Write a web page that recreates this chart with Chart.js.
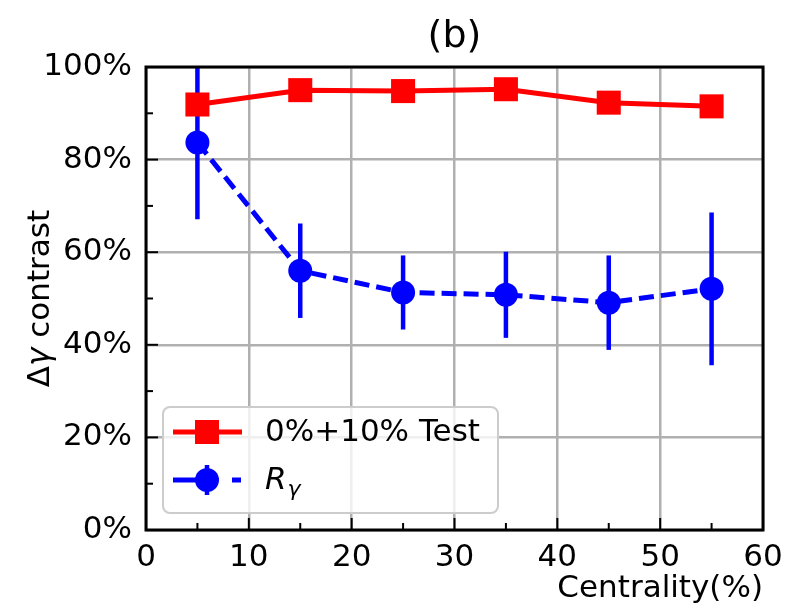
<!DOCTYPE html>
<html>
<head>
<meta charset="utf-8">
<script src="https://cdn.jsdelivr.net/npm/chart.js@4.4.0/dist/chart.umd.min.js"></script>
<style>
  html, body { margin: 0; padding: 0; background: #fff; }
  #wrap { width: 805px; height: 603px; }
</style>
</head>
<body>
<div id="wrap"><canvas id="chart" width="805" height="603"></canvas></div>
<script>
// centrality bins and the two contrast series (in %)
const centrality = [5, 15, 25, 35, 45, 55];
const testContrast = [91.9, 95.0, 94.8, 95.2, 92.3, 91.5];
const rGamma = [83.7, 56.0, 51.3, 50.8, 49.1, 52.1];
const rGammaErr = [16.6, 10.2, 8.0, 9.3, 10.2, 16.5];
const xTicks = [0, 10, 20, 30, 40, 50, 60];
const yTicks = [0, 20, 40, 60, 80, 100];
const xMinor = [5, 15, 25, 35, 45, 55];
const yMinor = [10, 30, 50, 70, 90];

const FONT = '"DejaVu Sans", sans-serif';
const RED = '#ff0000';
const BLUE = '#0000ff';
const GRID = '#b0b0b0';

// vertical error bars for R_gamma, under the markers
const errorBars = {
    id: 'errorBars',
    beforeDatasetsDraw(chart) {
        const { ctx, chartArea: a, scales: { x, y } } = chart;
        ctx.save();
        ctx.beginPath();
        ctx.rect(a.left, a.top, a.right - a.left, a.bottom - a.top);
        ctx.clip();
        ctx.strokeStyle = BLUE;
        ctx.lineWidth = 4.5;
        centrality.forEach((c, i) => {
            const px = x.getPixelForValue(c);
            ctx.beginPath();
            ctx.moveTo(px, y.getPixelForValue(rGamma[i] - rGammaErr[i]));
            ctx.lineTo(px, y.getPixelForValue(rGamma[i] + rGammaErr[i]));
            ctx.stroke();
        });
        ctx.restore();
    }
};

// box frame with inward ticks, legend and text labels
const frame = {
    id: 'frame',
    afterDatasetsDraw(chart) {
        const { ctx, chartArea: a, scales: { x, y } } = chart;
        ctx.save();
        ctx.strokeStyle = '#000';
        ctx.lineWidth = 2;
        const tick = (x1, y1, x2, y2) => { ctx.beginPath(); ctx.moveTo(x1, y1); ctx.lineTo(x2, y2); ctx.stroke(); };
        yTicks.forEach(v => { const p = y.getPixelForValue(v); tick(a.left, p, a.left + 12, p); });
        yMinor.forEach(v => { const p = y.getPixelForValue(v); tick(a.left, p, a.left + 7, p); });
        xTicks.forEach(v => { const p = x.getPixelForValue(v); tick(p, a.bottom, p, a.bottom - 12); });
        xMinor.forEach(v => { const p = x.getPixelForValue(v); tick(p, a.bottom, p, a.bottom - 7); });
        ctx.lineWidth = 3;
        ctx.strokeRect(a.left, a.top, a.right - a.left, a.bottom - a.top);
        ctx.restore();
    },
    afterDraw(chart) {
        const { ctx, chartArea: a } = chart;
        ctx.save();

        // legend
        ctx.fillStyle = 'rgba(255,255,255,0.8)';
        ctx.strokeStyle = '#cccccc';
        ctx.lineWidth = 2;
        ctx.beginPath();
        ctx.roundRect(163, 407, 335, 106, 7);
        ctx.fill();
        ctx.stroke();

        const hx = 207;
        ctx.strokeStyle = RED;
        ctx.lineWidth = 5;
        ctx.beginPath(); ctx.moveTo(173, 432); ctx.lineTo(242, 432); ctx.stroke();
        ctx.fillStyle = RED;
        ctx.fillRect(hx - 12, 420, 24, 24);

        ctx.strokeStyle = BLUE;
        ctx.lineWidth = 5;
        ctx.beginPath(); ctx.moveTo(173, 480); ctx.lineTo(200, 480); ctx.stroke();
        ctx.beginPath(); ctx.moveTo(232, 480); ctx.lineTo(241, 480); ctx.stroke();
        ctx.lineWidth = 4.5;
        ctx.beginPath(); ctx.moveTo(hx, 465); ctx.lineTo(hx, 495); ctx.stroke();
        ctx.fillStyle = BLUE;
        ctx.beginPath(); ctx.arc(hx, 480, 12, 0, Math.PI * 2); ctx.fill();

        ctx.fillStyle = '#000';
        ctx.textBaseline = 'middle';
        ctx.textAlign = 'left';
        ctx.font = '31px ' + FONT;
        ctx.fillText('0%+10% Test', 265, 433);
        ctx.font = 'italic 31px ' + FONT;
        ctx.fillText('R', 265, 481);
        const rw = ctx.measureText('R').width;
        ctx.font = 'italic 22px ' + FONT;
        ctx.fillText('γ', 265 + rw + 1, 490);

        // title
        ctx.font = '38px ' + FONT;
        ctx.textAlign = 'center';
        ctx.textBaseline = 'alphabetic';
        ctx.fillText('(b)', (a.left + a.right) / 2, 47);

        // x axis label
        ctx.font = '31px ' + FONT;
        ctx.textAlign = 'right';
        ctx.fillText('Centrality(%)', a.right, 597);

        // y axis label
        ctx.translate(41, (a.top + a.bottom) / 2);
        ctx.rotate(-Math.PI / 2);
        ctx.textBaseline = 'middle';
        const parts = [['Δ', '31px '], ['γ', 'italic 31px '], [' contrast', '31px ']];
        let total = 0;
        parts.forEach(([t, f]) => { ctx.font = f + FONT; total += ctx.measureText(t).width; });
        let cx = -total / 2;
        ctx.textAlign = 'left';
        parts.forEach(([t, f]) => {
            ctx.font = f + FONT;
            ctx.fillText(t, cx, 0);
            cx += ctx.measureText(t).width;
        });
        ctx.restore();
    }
};

const ctx = document.getElementById('chart').getContext('2d');
new Chart(ctx, {
    type: 'line',
    data: {
        datasets: [
            {
                label: '0%+10% Test',
                data: centrality.map((c, i) => ({ x: c, y: testContrast[i] })),
                borderColor: RED,
                backgroundColor: RED,
                borderWidth: 5,
                pointStyle: 'rect',
                pointRadius: 17,
                pointBorderWidth: 0,
                pointBackgroundColor: RED
            },
            {
                label: 'R_gamma',
                data: centrality.map((c, i) => ({ x: c, y: rGamma[i] })),
                borderColor: BLUE,
                backgroundColor: BLUE,
                borderWidth: 5,
                borderDash: [15, 7],
                pointStyle: 'circle',
                pointRadius: 12,
                pointBorderWidth: 0,
                pointBackgroundColor: BLUE
            }
        ]
    },
    options: {
        responsive: false,
        animation: false,
        layout: { padding: { top: 67, right: 42, left: 0, bottom: 0 } },
        scales: {
            x: {
                type: 'linear',
                min: 0,
                max: 60,
                afterBuildTicks: s => { s.ticks = xTicks.map(v => ({ value: v })); },
                afterFit: s => { s.height = 73; },
                grid: { color: GRID, lineWidth: 2.5, drawTicks: false },
                border: { display: false },
                ticks: { color: '#000', font: { family: FONT, size: 31 }, padding: 9, maxRotation: 0 }
            },
            y: {
                min: 0,
                max: 100,
                afterBuildTicks: s => { s.ticks = yTicks.map(v => ({ value: v })); },
                afterFit: s => { s.width = 146; },
                grid: { color: GRID, lineWidth: 2.5, drawTicks: false },
                border: { display: false },
                ticks: { color: '#000', font: { family: FONT, size: 31 }, padding: 14, callback: v => v + '%' }
            }
        },
        plugins: { legend: { display: false }, tooltip: { enabled: false } }
    },
    plugins: [errorBars, frame]
});
</script>
</body>
</html>
